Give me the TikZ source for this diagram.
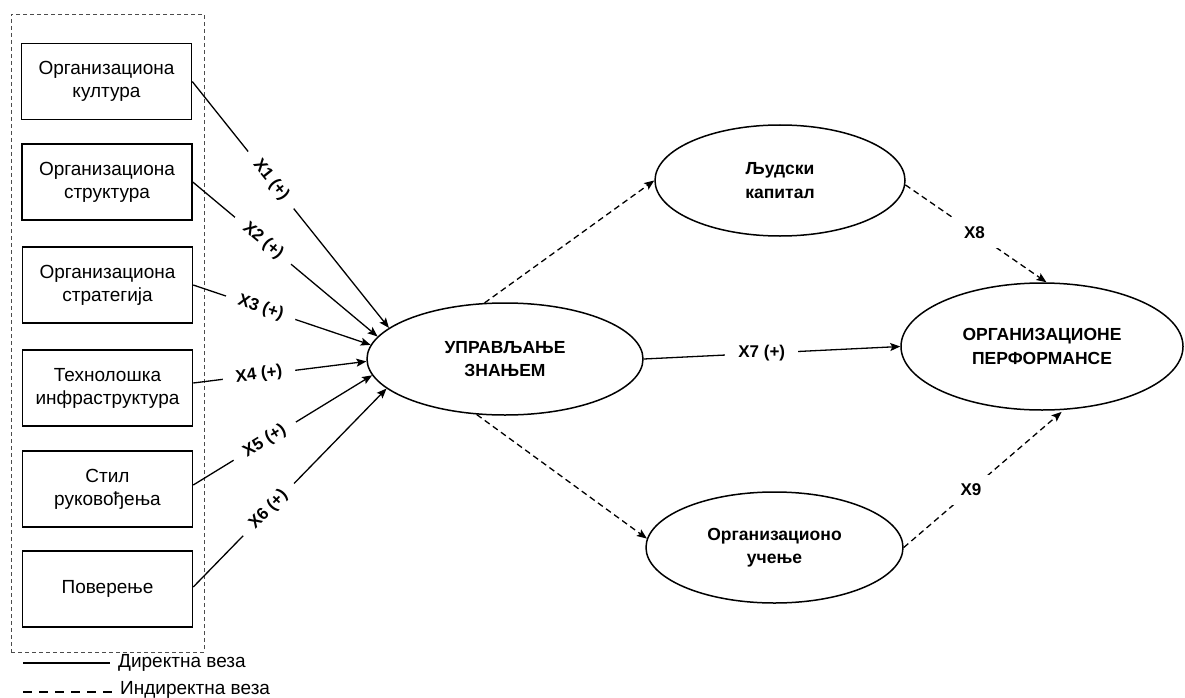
\documentclass[tikz,border=0pt]{standalone}
\usepackage{fontspec}
\setmainfont{Liberation Sans}
\usetikzlibrary{arrows.meta,shapes.geometric}
\begin{document}
\begin{tikzpicture}[x=1pt,y=-1pt,
  box/.style={draw, line width=1.5pt, minimum width=170pt, minimum height=76pt, align=center, font=\fontsize{19}{23}\selectfont, inner sep=0pt},
  ell/.style={draw, ellipse, line width=1.5pt, inner sep=0pt, align=center, font=\bfseries\fontsize{17.5}{23.5}\selectfont},
  arr/.style={line width=1.3pt, -{Stealth[length=10pt,width=8pt,inset=2pt]}},
  darr/.style={arr, dash pattern=on 6pt off 4pt},
  lbl/.style={fill=white, font=\bfseries\fontsize{17}{19}\selectfont, inner xsep=13pt, inner ysep=2pt},
  lblh/.style={fill=white, font=\bfseries\fontsize{17}{19}\selectfont, inner xsep=14pt, inner ysep=9pt},
  leg/.style={font=\fontsize{19}{21}\selectfont, anchor=west, inner sep=0pt}
]
\useasboundingbox (0,0) rectangle (1185,698);

% group frame
\node[draw=black!70, line width=0.8pt, dash pattern=on 4pt off 3pt, minimum width=193pt, minimum height=638pt, inner sep=0pt] (grp) at (107.5,333) {};

% left boxes
\node[box] (b1) at (106.5,81.5) {Организациона\\култура};
\node[box] (b2) at (107,182) {Организациона\\структура};
\node[box] (b3) at (107.5,285) {Организациона\\стратегија};
\node[box] (b4) at (107.5,388) {Технолошка\\инфраструктура};
\node[box] (b5) at (107.5,489) {Стил\\руковођења};
\node[box] (b6) at (107.5,589) {Поверење};

% ellipses
\node[ell, minimum width=276pt, minimum height=112pt] (upr) at (505,359) {УПРАВЉАЊЕ\\ЗНАЊЕМ};
\node[ell, minimum width=250pt, minimum height=111pt] (lj) at (780,180.5) {Људски\\капитал};
\node[ell, minimum width=282pt, minimum height=127pt] (org) at (1042,346.5) {ОРГАНИЗАЦИОНЕ\\ПЕРФОРМАНСЕ};
\node[ell, minimum width=257pt, minimum height=111pt] (uc) at (774.5,547.5) {Организационо\\учење};

% direct paths
\draw[arr] (b1.east) -- node[lbl, sloped, pos=.40] {X1 (+)} (upr.165.2);
\draw[arr] (b2.east) -- node[lbl, sloped, pos=.38] {X2 (+)} (upr.170.2);
\draw[arr] (b3.east) -- node[lbl, sloped, pos=.38] {X3 (+)} (upr.174.1);
\draw[arr] ([yshift=5pt]b4.east) -- node[lbl, sloped, pos=.38] {X4 (+)} (upr.181.2);
\draw[arr] ([yshift=4pt]b5.east) -- node[lbl, sloped, pos=.40] {X5 (+)} (upr.187.6);
\draw[arr] ([yshift=2pt]b6.east) -- node[lbl, sloped, pos=.39] {X6 (+)} (upr.194.1);
\draw[arr] (upr.east) -- node[lbl, pos=.46] {X7 (+)} (org.west);

% indirect paths
\draw[darr] (upr.110.8) -- (lj.west);
\draw[darr] (upr.243) -- (uc.176.5);
\draw[darr] (lj.-2) -- node[lblh, pos=.49] {X8} (org.86);
\draw[darr, shorten >=3pt] (uc.east) -- node[lblh, pos=.42] {X9} (org.-71.4);

% legend
\coordinate (l1a) at (23,663);
\coordinate (l1b) at (110,663);
\coordinate (l2a) at (23,692);
\coordinate (l2b) at (114,692);
\draw[line width=1.5pt] (l1a) -- (l1b);
\draw[line width=1.5pt, dash pattern=on 9pt off 7pt] (l2a) -- (l2b);
\node[leg] (t1) at (118,663) {Директна веза};
\node[leg] (t2) at (120,690) {Индиректна веза};
\end{tikzpicture}
\end{document}
